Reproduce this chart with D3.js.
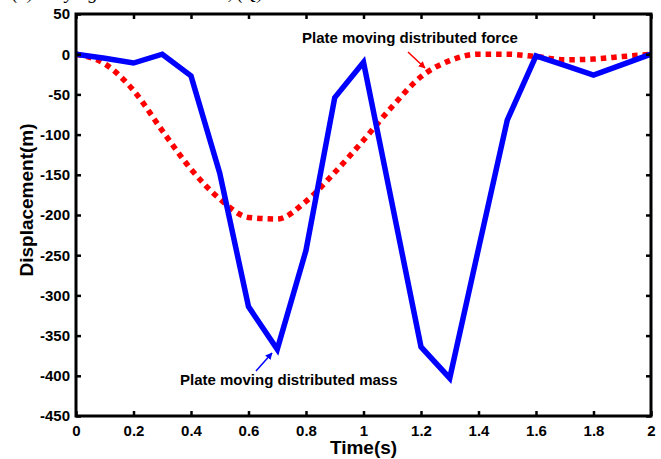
<!DOCTYPE html>
<html>
<head>
<meta charset="utf-8">
<script src="https://cdn.jsdelivr.net/npm/d3@7"></script>
<style>
  html, body { margin: 0; padding: 0; background: #fff; }
  svg { display: block; }
  text { font-family: "Liberation Sans", Arial, sans-serif; font-weight: bold; fill: #000; }
</style>
</head>
<body>
<script>
// Time samples (s)
const time = [0, 0.1, 0.2, 0.3, 0.4, 0.5, 0.6, 0.7, 0.8, 0.9, 1.0,
              1.1, 1.2, 1.3, 1.4, 1.5, 1.6, 1.7, 1.8, 1.9, 2.0];
// Displacement of plate under moving distributed mass (m)
const massDisp = [0, -5, -11, 0, -27, -148, -314, -367, -244, -54, -10,
                  -187, -364, -403, -242, -82, -2, -14, -26, -13, 0];
// Displacement of plate under moving distributed force (m)
const forceDisp = [0, -12, -45, -95, -143, -180, -203, -205, -183, -147, -107,
                   -65, -28, -8, 0, 0, -3, -7, -6, -3, 0];
const xTicks = [0, 0.2, 0.4, 0.6, 0.8, 1, 1.2, 1.4, 1.6, 1.8, 2];
const yTicks = [50, 0, -50, -100, -150, -200, -250, -300, -350, -400, -450];

const W = 661, H = 459;
const margin = { left: 76, right: 10, top: 14, bottom: 43 };

const svg = d3.select("body").append("svg").attr("width", W).attr("height", H);

const x = d3.scaleLinear().domain([0, 2]).range([margin.left, W - margin.right]);
const y = d3.scaleLinear().domain([-450, 50]).range([H - margin.bottom, margin.top]);

// Caption line above the axes, running off the top edge
svg.append("text")
  .attr("x", 12).attr("y", -1)
  .style("font-family", "'Liberation Serif', 'Times New Roman', serif")
  .style("font-weight", "normal").style("font-style", "italic")
  .style("font-size", "19px")
  .text("(a) Varying the load mass M, (Q)");

const defs = svg.append("defs");
function arrowMarker(id, color) {
  defs.append("marker")
    .attr("id", id).attr("viewBox", "0 0 10 10")
    .attr("refX", 9).attr("refY", 5)
    .attr("markerWidth", 7).attr("markerHeight", 7)
    .attr("markerUnits", "userSpaceOnUse")
    .attr("orient", "auto")
    .append("path").attr("d", "M0,0 L10,5 L0,10 Z").attr("fill", color);
}
arrowMarker("arrRed", "#ff0000");
arrowMarker("arrBlue", "#0000ff");

const plot = svg.append("g");

// Force response: red dotted curve
plot.append("path")
  .datum(time.map((t, i) => [t, forceDisp[i]]))
  .attr("fill", "none")
  .attr("stroke", "#ff0000")
  .attr("stroke-width", 5.5)
  .attr("stroke-dasharray", "5.5,5")
  .attr("d", d3.line().x(d => x(d[0])).y(d => y(d[1])).curve(d3.curveMonotoneX));

// Mass response: solid blue polyline
plot.append("path")
  .datum(time.map((t, i) => [t, massDisp[i]]))
  .attr("fill", "none")
  .attr("stroke", "#0000ff")
  .attr("stroke-width", 5.5)
  .attr("stroke-linejoin", "miter")
  .attr("d", d3.line().x(d => x(d[0])).y(d => y(d[1])));

// Axes box with inward ticks on all four sides
const x0 = x(0), x1 = x(2), y0 = y(-450), y1 = y(50);
const tickLen = 5;
const plainNum = d => String(d);   // ASCII hyphen for negatives

const xAxisB = svg.append("g").attr("transform", `translate(0,${y0})`)
  .call(d3.axisBottom(x).tickValues(xTicks).tickSizeInner(-tickLen).tickSizeOuter(0)
        .tickPadding(9).tickFormat(plainNum));
const xAxisT = svg.append("g").attr("transform", `translate(0,${y1})`)
  .call(d3.axisTop(x).tickValues(xTicks).tickSizeInner(-tickLen).tickSizeOuter(0).tickFormat(""));
const yAxisL = svg.append("g").attr("transform", `translate(${x0},0)`)
  .call(d3.axisLeft(y).tickValues(yTicks).tickSizeInner(-tickLen).tickSizeOuter(0)
        .tickPadding(6).tickFormat(plainNum));
const yAxisR = svg.append("g").attr("transform", `translate(${x1},0)`)
  .call(d3.axisRight(y).tickValues(yTicks).tickSizeInner(-tickLen).tickSizeOuter(0).tickFormat(""));

[xAxisB, xAxisT, yAxisL, yAxisR].forEach(g => {
  g.select(".domain").remove();
  g.selectAll(".tick line").attr("stroke", "#000").attr("stroke-width", 2.5);
  g.selectAll("text").attr("fill", "#000")
    .style("font-family", "'Liberation Sans', Arial, sans-serif")
    .style("font-weight", "bold").style("font-size", "15px");
});

svg.append("rect")
  .attr("x", x0).attr("y", y1).attr("width", x1 - x0).attr("height", y0 - y1)
  .attr("fill", "none").attr("stroke", "#000").attr("stroke-width", 3);

// Axis titles
svg.append("text")
  .attr("x", (x0 + x1) / 2).attr("y", 454)
  .attr("text-anchor", "middle")
  .style("font-size", "19px")
  .text("Time(s)");
svg.append("text")
  .attr("transform", "translate(26,200) rotate(-90)")
  .attr("text-anchor", "middle")
  .attr("dy", "0.35em")
  .style("font-size", "19px")
  .text("Displacement(m)");

// Annotations
svg.append("text").attr("x", 302).attr("y", 43).style("font-size", "15px")
  .text("Plate moving distributed force");
svg.append("line")
  .attr("x1", 408).attr("y1", 52).attr("x2", 425).attr("y2", 68)
  .attr("stroke", "#ff0000").attr("stroke-width", 1.5)
  .attr("marker-end", "url(#arrRed)");

svg.append("text").attr("x", 180).attr("y", 385).style("font-size", "15px")
  .text("Plate moving distributed mass");
svg.append("line")
  .attr("x1", 256).attr("y1", 371).attr("x2", 272).attr("y2", 353)
  .attr("stroke", "#0000ff").attr("stroke-width", 1.5)
  .attr("marker-end", "url(#arrBlue)");
</script>
</body>
</html>
